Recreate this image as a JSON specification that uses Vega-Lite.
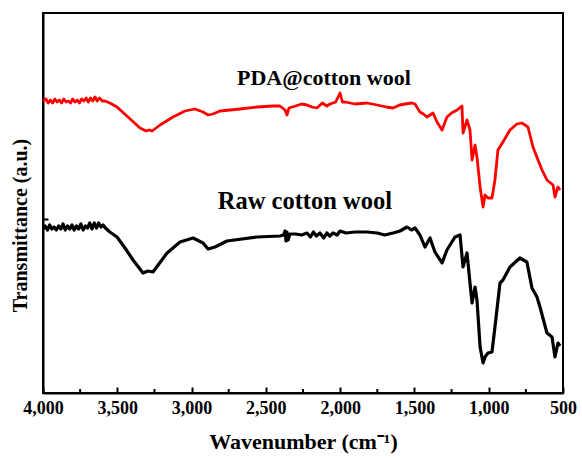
{
  "$schema": "https://vega.github.io/schema/vega-lite/v6.json",
  "width": 520,
  "height": 380,
  "autosize": "none",
  "padding": {"left": 43, "top": 13, "right": 19, "bottom": 65},
  "background": "white",
  "config": {
    "view": {"stroke": "black", "strokeWidth": 2},
    "font": "Liberation Serif"
  },
  "resolve": {"axis": {"x": "independent", "y": "independent"}},
  "datasets": {
    "spectra": [
      {"s":"PDA","w":4000,"t":292},{"s":"PDA","w":3980,"t":294},{"s":"PDA","w":3965,"t":290},{"s":"PDA","w":3950,"t":293},{"s":"PDA","w":3935,"t":290},{"s":"PDA","w":3920,"t":294},{"s":"PDA","w":3905,"t":291},{"s":"PDA","w":3890,"t":293},{"s":"PDA","w":3875,"t":290},{"s":"PDA","w":3860,"t":294},{"s":"PDA","w":3845,"t":291},{"s":"PDA","w":3830,"t":292},{"s":"PDA","w":3815,"t":290},{"s":"PDA","w":3800,"t":294},{"s":"PDA","w":3785,"t":291},{"s":"PDA","w":3770,"t":293},{"s":"PDA","w":3755,"t":290},{"s":"PDA","w":3740,"t":294},{"s":"PDA","w":3725,"t":292},{"s":"PDA","w":3710,"t":295},{"s":"PDA","w":3695,"t":291},{"s":"PDA","w":3680,"t":295},{"s":"PDA","w":3665,"t":292},{"s":"PDA","w":3650,"t":296},{"s":"PDA","w":3635,"t":292},{"s":"PDA","w":3620,"t":295},{"s":"PDA","w":3600,"t":292},{"s":"PDA","w":3583,"t":292},{"s":"PDA","w":3550,"t":290},{"s":"PDA","w":3502,"t":286},{"s":"PDA","w":3428,"t":276},{"s":"PDA","w":3347,"t":265},{"s":"PDA","w":3307,"t":262},{"s":"PDA","w":3285,"t":263},{"s":"PDA","w":3266,"t":262},{"s":"PDA","w":3212,"t":268},{"s":"PDA","w":3125,"t":276},{"s":"PDA","w":3044,"t":282},{"s":"PDA","w":2977,"t":284},{"s":"PDA","w":2923,"t":281},{"s":"PDA","w":2889,"t":278},{"s":"PDA","w":2856,"t":279},{"s":"PDA","w":2809,"t":282},{"s":"PDA","w":2674,"t":284},{"s":"PDA","w":2560,"t":286},{"s":"PDA","w":2450,"t":287},{"s":"PDA","w":2405,"t":287},{"s":"PDA","w":2371,"t":283},{"s":"PDA","w":2358,"t":278},{"s":"PDA","w":2344,"t":285},{"s":"PDA","w":2300,"t":287},{"s":"PDA","w":2260,"t":289},{"s":"PDA","w":2223,"t":288},{"s":"PDA","w":2190,"t":286},{"s":"PDA","w":2156,"t":285},{"s":"PDA","w":2120,"t":290},{"s":"PDA","w":2090,"t":287},{"s":"PDA","w":2068,"t":289},{"s":"PDA","w":2030,"t":291},{"s":"PDA","w":2001,"t":300},{"s":"PDA","w":1985,"t":291},{"s":"PDA","w":1967,"t":291},{"s":"PDA","w":1900,"t":289},{"s":"PDA","w":1819,"t":290},{"s":"PDA","w":1750,"t":288},{"s":"PDA","w":1690,"t":286},{"s":"PDA","w":1644,"t":285},{"s":"PDA","w":1600,"t":288},{"s":"PDA","w":1563,"t":289},{"s":"PDA","w":1520,"t":290},{"s":"PDA","w":1496,"t":289},{"s":"PDA","w":1463,"t":281},{"s":"PDA","w":1440,"t":279},{"s":"PDA","w":1415,"t":276},{"s":"PDA","w":1375,"t":280},{"s":"PDA","w":1348,"t":271},{"s":"PDA","w":1314,"t":263},{"s":"PDA","w":1281,"t":276},{"s":"PDA","w":1250,"t":280},{"s":"PDA","w":1213,"t":283},{"s":"PDA","w":1180,"t":287},{"s":"PDA","w":1173,"t":260},{"s":"PDA","w":1146,"t":273},{"s":"PDA","w":1126,"t":263},{"s":"PDA","w":1112,"t":233},{"s":"PDA","w":1092,"t":248},{"s":"PDA","w":1079,"t":236},{"s":"PDA","w":1058,"t":206},{"s":"PDA","w":1038,"t":186},{"s":"PDA","w":1025,"t":198},{"s":"PDA","w":1005,"t":195},{"s":"PDA","w":978,"t":195},{"s":"PDA","w":958,"t":213},{"s":"PDA","w":938,"t":243},{"s":"PDA","w":904,"t":251},{"s":"PDA","w":857,"t":263},{"s":"PDA","w":810,"t":269},{"s":"PDA","w":776,"t":270},{"s":"PDA","w":736,"t":266},{"s":"PDA","w":702,"t":246},{"s":"PDA","w":668,"t":233},{"s":"PDA","w":641,"t":223},{"s":"PDA","w":608,"t":213},{"s":"PDA","w":567,"t":208},{"s":"PDA","w":554,"t":196},{"s":"PDA","w":534,"t":206},{"s":"PDA","w":520,"t":203},
      {"s":"Raw","w":4000,"t":164},{"s":"Raw","w":3985,"t":167},{"s":"Raw","w":3970,"t":163},{"s":"Raw","w":3955,"t":168},{"s":"Raw","w":3940,"t":164},{"s":"Raw","w":3925,"t":166},{"s":"Raw","w":3910,"t":163},{"s":"Raw","w":3895,"t":167},{"s":"Raw","w":3880,"t":164},{"s":"Raw","w":3865,"t":169},{"s":"Raw","w":3850,"t":163},{"s":"Raw","w":3835,"t":167},{"s":"Raw","w":3820,"t":164},{"s":"Raw","w":3805,"t":168},{"s":"Raw","w":3790,"t":163},{"s":"Raw","w":3775,"t":167},{"s":"Raw","w":3760,"t":164},{"s":"Raw","w":3745,"t":169},{"s":"Raw","w":3730,"t":163},{"s":"Raw","w":3715,"t":167},{"s":"Raw","w":3700,"t":165},{"s":"Raw","w":3685,"t":170},{"s":"Raw","w":3670,"t":164},{"s":"Raw","w":3655,"t":170},{"s":"Raw","w":3640,"t":165},{"s":"Raw","w":3625,"t":170},{"s":"Raw","w":3610,"t":166},{"s":"Raw","w":3595,"t":168},{"s":"Raw","w":3580,"t":165},{"s":"Raw","w":3550,"t":161},{"s":"Raw","w":3502,"t":156},{"s":"Raw","w":3448,"t":145},{"s":"Raw","w":3394,"t":133},{"s":"Raw","w":3327,"t":120},{"s":"Raw","w":3293,"t":122},{"s":"Raw","w":3260,"t":121},{"s":"Raw","w":3165,"t":140},{"s":"Raw","w":3078,"t":151},{"s":"Raw","w":2990,"t":155},{"s":"Raw","w":2923,"t":150},{"s":"Raw","w":2889,"t":144},{"s":"Raw","w":2842,"t":146},{"s":"Raw","w":2762,"t":152},{"s":"Raw","w":2560,"t":156},{"s":"Raw","w":2405,"t":157},{"s":"Raw","w":2380,"t":158},{"s":"Raw","w":2371,"t":162},{"s":"Raw","w":2364,"t":152},{"s":"Raw","w":2358,"t":161},{"s":"Raw","w":2350,"t":153},{"s":"Raw","w":2338,"t":159},{"s":"Raw","w":2300,"t":159},{"s":"Raw","w":2260,"t":158},{"s":"Raw","w":2223,"t":160},{"s":"Raw","w":2200,"t":156},{"s":"Raw","w":2180,"t":161},{"s":"Raw","w":2160,"t":157},{"s":"Raw","w":2136,"t":160},{"s":"Raw","w":2110,"t":155},{"s":"Raw","w":2090,"t":160},{"s":"Raw","w":2070,"t":157},{"s":"Raw","w":2048,"t":160},{"s":"Raw","w":2020,"t":158},{"s":"Raw","w":2001,"t":162},{"s":"Raw","w":1960,"t":160},{"s":"Raw","w":1900,"t":161},{"s":"Raw","w":1819,"t":161},{"s":"Raw","w":1750,"t":160},{"s":"Raw","w":1700,"t":158},{"s":"Raw","w":1644,"t":160},{"s":"Raw","w":1597,"t":162},{"s":"Raw","w":1550,"t":166},{"s":"Raw","w":1520,"t":163},{"s":"Raw","w":1496,"t":165},{"s":"Raw","w":1463,"t":158},{"s":"Raw","w":1429,"t":146},{"s":"Raw","w":1395,"t":155},{"s":"Raw","w":1362,"t":141},{"s":"Raw","w":1314,"t":130},{"s":"Raw","w":1281,"t":143},{"s":"Raw","w":1227,"t":156},{"s":"Raw","w":1193,"t":158},{"s":"Raw","w":1173,"t":126},{"s":"Raw","w":1146,"t":140},{"s":"Raw","w":1126,"t":110},{"s":"Raw","w":1112,"t":90},{"s":"Raw","w":1092,"t":106},{"s":"Raw","w":1079,"t":93},{"s":"Raw","w":1058,"t":46},{"s":"Raw","w":1038,"t":30},{"s":"Raw","w":1025,"t":36},{"s":"Raw","w":1005,"t":40},{"s":"Raw","w":978,"t":41},{"s":"Raw","w":958,"t":66},{"s":"Raw","w":924,"t":110},{"s":"Raw","w":904,"t":113},{"s":"Raw","w":857,"t":126},{"s":"Raw","w":790,"t":135},{"s":"Raw","w":743,"t":131},{"s":"Raw","w":709,"t":105},{"s":"Raw","w":675,"t":96},{"s":"Raw","w":655,"t":86},{"s":"Raw","w":608,"t":60},{"s":"Raw","w":574,"t":56},{"s":"Raw","w":554,"t":36},{"s":"Raw","w":534,"t":50},{"s":"Raw","w":520,"t":47}
    ],
    "labels": [
      {"label":"PDA@cotton wool","w":2109,"t":308,"size":22},
      {"label":"Raw cotton wool","w":2237,"t":184,"size":24.5}
    ],
    "minor": [
      {"w":3750},{"w":3250},{"w":2750},{"w":2250},{"w":1750},{"w":1250},{"w":750}
    ]
  },
  "layer": [
    {
      "data": {"name": "spectra"},
      "mark": {"type": "line", "interpolate": "linear", "strokeJoin": "round"},
      "encoding": {
        "x": {
          "field": "w", "type": "quantitative",
          "scale": {"domain": [4000, 500], "nice": false, "zero": false},
          "axis": {
            "values": [4000, 3500, 3000, 2500, 2000, 1500, 1000, 500],
            "format": ",d",
            "title": "Wavenumber (cm\u207b\u00b9)",
            "titleFont": "Liberation Serif", "titleFontSize": 22, "titleFontWeight": "bold", "titleColor": "black",
            "titlePadding": 14,
            "labelFont": "Liberation Serif", "labelFontSize": 18, "labelFontWeight": "bold", "labelColor": "black",
            "labelPadding": 12, "labelFlush": false,
            "tickSize": -6, "tickWidth": 2, "tickColor": "black",
            "domainColor": "black", "domainWidth": 2, "grid": false
          }
        },
        "y": {
          "field": "t", "type": "quantitative",
          "scale": {"domain": [0, 380], "nice": false, "zero": false},
          "axis": {
            "values": [174],
            "labels": false,
            "title": "Transmittance (a.u.)",
            "titleFont": "Liberation Serif", "titleFontSize": 20, "titleFontWeight": "bold", "titleColor": "black",
            "titlePadding": 12, "titleY": 212,
            "tickSize": -5, "tickWidth": 2, "tickColor": "black",
            "domainColor": "black", "domainWidth": 2, "grid": false
          }
        },
        "color": {
          "field": "s", "type": "nominal",
          "scale": {"domain": ["PDA", "Raw"], "range": ["#ff0000", "#000000"]},
          "legend": null
        },
        "strokeWidth": {
          "field": "s", "type": "nominal",
          "scale": {"domain": ["PDA", "Raw"], "range": [2.8, 3.2]},
          "legend": null
        }
      }
    },
    {
      "data": {"name": "minor"},
      "mark": {"type": "rule", "color": "black", "strokeWidth": 2},
      "encoding": {
        "x": {"field": "w", "type": "quantitative", "axis": null},
        "y": {"datum": 0, "type": "quantitative", "axis": null},
        "y2": {"datum": 4}
      }
    },
    {
      "data": {"name": "labels"},
      "mark": {"type": "text", "font": "Liberation Serif", "fontWeight": "bold", "color": "black", "align": "center", "baseline": "alphabetic"},
      "encoding": {
        "x": {"field": "w", "type": "quantitative", "axis": null},
        "y": {"field": "t", "type": "quantitative", "axis": null},
        "text": {"field": "label"},
        "size": {"field": "size", "type": "quantitative", "scale": null}
      }
    }
  ]
}
